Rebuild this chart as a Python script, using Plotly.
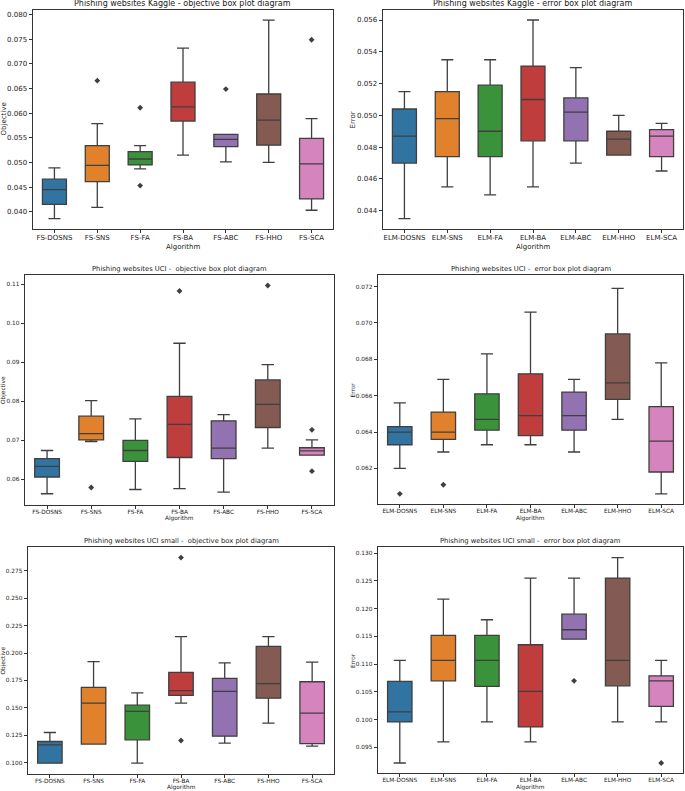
import plotly.graph_objects as go

W, H = 685, 791

fs_algorithms = ["FS-DOSNS", "FS-SNS", "FS-FA", "FS-BA", "FS-ABC", "FS-HHO", "FS-SCA"]
elm_algorithms = ["ELM-DOSNS", "ELM-SNS", "ELM-FA", "ELM-BA", "ELM-ABC", "ELM-HHO", "ELM-SCA"]
colors = ["#3274a1", "#e1812c", "#3a923a", "#c03d3e", "#9372b2", "#845b53", "#d684bd"]

# Panel 1: Kaggle objective
kaggle_obj_lower = [0.0386, 0.0409, 0.0487, 0.0515, 0.0501, 0.0500, 0.0403]
kaggle_obj_q1 = [0.0415, 0.0461, 0.0495, 0.0584, 0.0532, 0.0535, 0.0426]
kaggle_obj_median = [0.0445, 0.0494, 0.0507, 0.0613, 0.0547, 0.0586, 0.0497]
kaggle_obj_q3 = [0.0466, 0.0534, 0.0522, 0.0663, 0.0557, 0.0639, 0.0549]
kaggle_obj_upper = [0.0489, 0.0579, 0.0534, 0.0732, 0.0557, 0.0789, 0.0589]
kaggle_obj_out_cat = ["FS-SNS", "FS-FA", "FS-FA", "FS-ABC", "FS-SCA"]
kaggle_obj_out_val = [0.0666, 0.0611, 0.0453, 0.0649, 0.0749]

# Panel 2: Kaggle error
kaggle_err_lower = [0.0435, 0.0455, 0.0450, 0.0455, 0.0470, 0.0475, 0.0465]
kaggle_err_q1 = [0.0470, 0.0474, 0.0474, 0.0484, 0.0484, 0.0475, 0.0474]
kaggle_err_median = [0.0487, 0.0498, 0.0490, 0.0510, 0.0502, 0.0485, 0.0487]
kaggle_err_q3 = [0.0504, 0.0515, 0.0519, 0.0531, 0.0511, 0.0490, 0.0491]
kaggle_err_upper = [0.0515, 0.0535, 0.0535, 0.0560, 0.0530, 0.0500, 0.0495]
kaggle_err_out_cat = []
kaggle_err_out_val = []

# Panel 3: UCI objective
uci_obj_lower = [0.0563, 0.0697, 0.0574, 0.0576, 0.0567, 0.0680, 0.0662]
uci_obj_q1 = [0.0606, 0.0701, 0.0646, 0.0656, 0.0653, 0.0733, 0.0662]
uci_obj_median = [0.0633, 0.0717, 0.0674, 0.0741, 0.0680, 0.0792, 0.0673]
uci_obj_q3 = [0.0653, 0.0762, 0.0700, 0.0813, 0.0750, 0.0855, 0.0681]
uci_obj_upper = [0.0674, 0.0802, 0.0755, 0.0949, 0.0766, 0.0894, 0.0701]
uci_obj_out_cat = ["FS-SNS", "FS-BA", "FS-HHO", "FS-SCA", "FS-SCA"]
uci_obj_out_val = [0.0579, 0.1083, 0.1097, 0.0727, 0.0621]

# Panel 4: UCI error
uci_err_lower = [0.0620, 0.0629, 0.0633, 0.0633, 0.0629, 0.0647, 0.0606]
uci_err_q1 = [0.0633, 0.0636, 0.0641, 0.0638, 0.0641, 0.0658, 0.0618]
uci_err_median = [0.0640, 0.0640, 0.0647, 0.0649, 0.0649, 0.0667, 0.0635]
uci_err_q3 = [0.0643, 0.0651, 0.0661, 0.0672, 0.0662, 0.0694, 0.0654]
uci_err_upper = [0.0656, 0.0669, 0.0683, 0.0706, 0.0669, 0.0719, 0.0678]
uci_err_out_cat = ["ELM-DOSNS", "ELM-SNS"]
uci_err_out_val = [0.0606, 0.0611]

# Panel 5: UCI small objective
small_obj_lower = [0.0994, 0.1168, 0.0994, 0.1543, 0.1177, 0.1359, 0.1150]
small_obj_q1 = [0.0994, 0.1168, 0.1207, 0.1613, 0.1241, 0.1588, 0.1172]
small_obj_median = [0.1161, 0.1543, 0.1467, 0.1656, 0.1650, 0.1720, 0.1452]
small_obj_q3 = [0.1192, 0.1686, 0.1524, 0.1823, 0.1768, 0.2061, 0.1738]
small_obj_upper = [0.1274, 0.1921, 0.1637, 0.2150, 0.1911, 0.2150, 0.1918]
small_obj_out_cat = ["FS-BA", "FS-BA"]
small_obj_out_val = [0.2872, 0.1201]

# Panel 6: UCI small error
small_err_lower = [0.0922, 0.0960, 0.0996, 0.0960, 0.1145, 0.0996, 0.0996]
small_err_q1 = [0.0996, 0.1070, 0.1060, 0.0987, 0.1145, 0.1061, 0.1024]
small_err_median = [0.1014, 0.1107, 0.1107, 0.1051, 0.1162, 0.1107, 0.1070]
small_err_q3 = [0.1069, 0.1152, 0.1152, 0.1135, 0.1190, 0.1255, 0.1079]
small_err_upper = [0.1107, 0.1217, 0.1180, 0.1255, 0.1255, 0.1292, 0.1107]
small_err_out_cat = ["ELM-ABC", "ELM-SCA"]
small_err_out_val = [0.1070, 0.0922]

titles = [
    "Phishing websites Kaggle - objective box plot diagram",
    "Phishing websites Kaggle - error box plot diagram",
    "Phishing websites UCI -  objective box plot diagram",
    "Phishing websites UCI -  error box plot diagram",
    "Phishing websites UCI small -  objective box plot diagram",
    "Phishing websites UCI small -  error box plot diagram",
]

panels = [
    dict(cats=fs_algorithms, lo=kaggle_obj_lower, q1=kaggle_obj_q1, med=kaggle_obj_median, q3=kaggle_obj_q3, hi=kaggle_obj_upper,
         oc=kaggle_obj_out_cat, ov=kaggle_obj_out_val, ylab="Objective",
         box=(33, 333, 10, 229), yr=(0.03649, 0.08095), dtick=0.005, fmt=".3f", fs=7.0, tfs=8.0, ty=3, xl=246.5, yl=4),
    dict(cats=elm_algorithms, lo=kaggle_err_lower, q1=kaggle_err_q1, med=kaggle_err_median, q3=kaggle_err_q3, hi=kaggle_err_upper,
         oc=kaggle_err_out_cat, ov=kaggle_err_out_val, ylab="Error",
         box=(383, 683, 10, 229), yr=(0.04285, 0.05663), dtick=0.002, fmt=".3f", fs=7.0, tfs=8.0, ty=3, xl=246.5, yl=353),
    dict(cats=fs_algorithms, lo=uci_obj_lower, q1=uci_obj_q1, med=uci_obj_median, q3=uci_obj_q3, hi=uci_obj_upper,
         oc=uci_obj_out_cat, ov=uci_obj_out_val, ylab="Objective",
         box=(25, 334, 275, 505), yr=(0.05342, 0.1124), dtick=0.01, fmt=".2f", fs=5.8, tfs=6.8, ty=269, xl=518.5, yl=3),
    dict(cats=elm_algorithms, lo=uci_err_lower, q1=uci_err_q1, med=uci_err_median, q3=uci_err_q3, hi=uci_err_upper,
         oc=uci_err_out_cat, ov=uci_err_out_val, ylab="Error",
         box=(378, 683, 275, 504), yr=(0.06004, 0.07264), dtick=0.002, fmt=".3f", fs=5.8, tfs=6.8, ty=269, xl=518.5, yl=353),
    dict(cats=fs_algorithms, lo=small_obj_lower, q1=small_obj_q1, med=small_obj_median, q3=small_obj_q3, hi=small_obj_upper,
         oc=small_obj_out_cat, ov=small_obj_out_val, ylab="Objective",
         box=(28, 334, 547, 774), yr=(0.0895, 0.2969), dtick=0.025, fmt=".3f", fs=5.8, tfs=6.8, ty=541, xl=787.5, yl=3),
    dict(cats=elm_algorithms, lo=small_err_lower, q1=small_err_q1, med=small_err_median, q3=small_err_q3, hi=small_err_upper,
         oc=small_err_out_cat, ov=small_err_out_val, ylab="Error",
         box=(378, 683, 547, 773), yr=(0.0904, 0.1311), dtick=0.005, fmt=".3f", fs=5.8, tfs=6.8, ty=541, xl=787.5, yl=353),
]

FONT = "DejaVu Sans"
TXT = "#222222"
EDGE = "#3f3f3f"

fig = go.Figure()
layout = dict(width=W, height=H, margin=dict(l=0, r=0, t=0, b=0), autosize=False,
              paper_bgcolor="white", plot_bgcolor="white", showlegend=False,
              boxgap=0.2, boxmode="overlay", font=dict(family=FONT, color=TXT))
annotations = []

for i, p in enumerate(panels):
    n = "" if i == 0 else str(i + 1)
    xa, ya = "x" + n, "y" + n
    for j, c in enumerate(p["cats"]):
        fig.add_trace(go.Box(
            x=[c], q1=[p["q1"][j]], median=[p["med"][j]], q3=[p["q3"][j]],
            lowerfence=[p["lo"][j]], upperfence=[p["hi"][j]],
            fillcolor=colors[j], line=dict(color=EDGE, width=1.3),
            whiskerwidth=0.5, boxpoints=False, xaxis=xa, yaxis=ya, hoverinfo="skip"))
    if p["oc"]:
        fig.add_trace(go.Scatter(x=p["oc"], y=p["ov"], mode="markers",
                                 marker=dict(symbol="diamond", size=4.5, color=EDGE),
                                 xaxis=xa, yaxis=ya, hoverinfo="skip"))
    x0, x1, y0, y1 = p["box"]
    axcommon = dict(showline=True, mirror=True, linecolor="#333333", linewidth=0.9,
                    ticks="outside", ticklen=3.5, tickwidth=0.8, tickcolor="#333333",
                    showgrid=False, zeroline=False,
                    tickfont=dict(family=FONT, size=p["fs"], color=TXT))
    layout["xaxis" + n] = dict(axcommon, domain=[x0 / W, x1 / W], anchor=ya,
                               type="category", categoryorder="array", categoryarray=p["cats"],
                               range=[-0.5, 6.5], ticklabelstandoff=-2)
    layout["yaxis" + n] = dict(axcommon, domain=[1 - y1 / H, 1 - y0 / H], anchor=xa,
                               range=list(p["yr"]), dtick=p["dtick"], tickformat=p["fmt"])
    cx = (x0 + x1) / 2
    annotations.append(dict(text=titles[i], x=cx / W, y=1 - p["ty"] / H, xref="paper", yref="paper",
                            xanchor="center", yanchor="middle", showarrow=False,
                            font=dict(family=FONT, size=p["tfs"], color=TXT)))
    annotations.append(dict(text="Algorithm", x=cx / W, y=1 - p["xl"] / H, xref="paper", yref="paper",
                            xanchor="center", yanchor="middle", showarrow=False,
                            font=dict(family=FONT, size=p["fs"], color=TXT)))
    annotations.append(dict(text=p["ylab"], x=p["yl"] / W, y=1 - ((y0 + y1) / 2) / H, xref="paper", yref="paper",
                            xanchor="center", yanchor="middle", showarrow=False, textangle=-90,
                            font=dict(family=FONT, size=p["fs"], color=TXT)))

layout["annotations"] = annotations
fig.update_layout(**layout)
fig.write_html("out.html", config={"displayModeBar": False},
               post_script="document.body.style.margin='0';document.body.style.overflow='hidden';")
